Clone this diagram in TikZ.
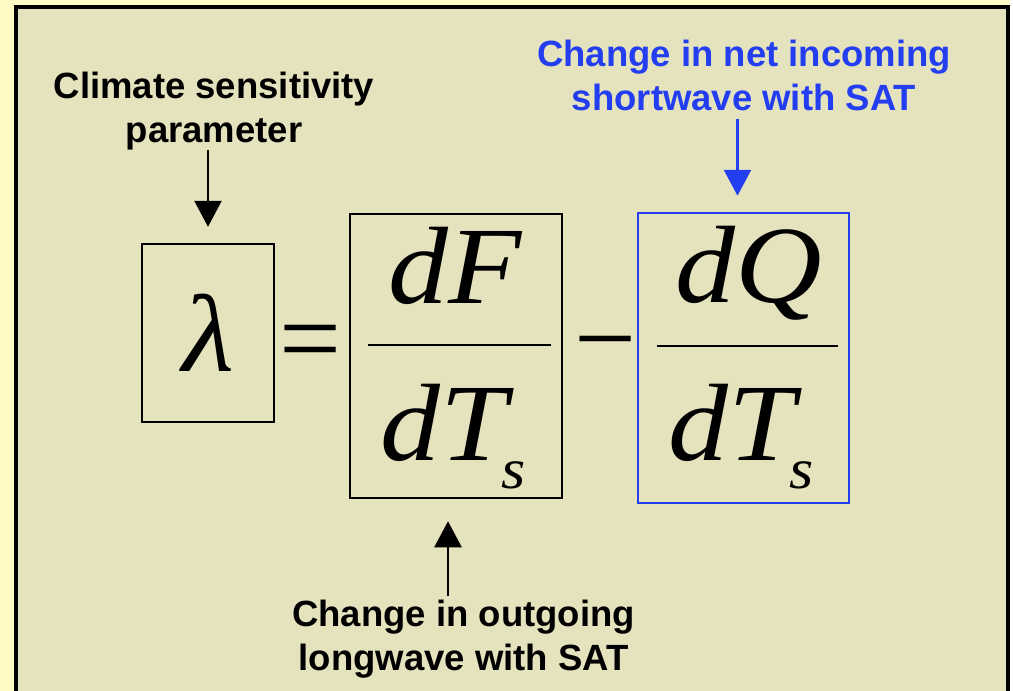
\documentclass[tikz,border=0pt]{standalone}
\usepackage{fontspec}
\setmainfont{Liberation Sans}
\newfontfamily\timesfont{Liberation Serif}
\newfontfamily\timesit{Liberation Serif}[FakeStretch=1.09]
\usetikzlibrary{arrows.meta,positioning}
\definecolor{bgtan}{RGB}{229,226,190}
\definecolor{paleyellow}{RGB}{255,251,196}
\definecolor{satblue}{RGB}{35,62,240}
\newcommand{\subs}{\kern-5pt\raisebox{-28pt}{\fontsize{57}{57}\selectfont s}}

\begin{document}
\begin{tikzpicture}[x=1pt,y=-1pt,>={Triangle[width=27pt,length=26pt]}]
  \tikzstyle{lbl}=[font=\fontsize{36.5}{44}\selectfont\bfseries,align=center,inner sep=0pt,anchor=base]
  \tikzstyle{sym}=[font=\fontsize{110}{110}\timesit\itshape,inner sep=0pt,anchor=base west]
  \tikzstyle{op}=[font=\fontsize{110}{110}\timesfont,inner sep=0pt,anchor=base west]
  \tikzstyle{box}=[draw,line width=2.5pt,inner sep=0pt]
  \tikzstyle{arr}=[->,line width=2.5pt]
  % background and frame
  \useasboundingbox (0,0) rectangle (1013,691);
  \fill[paleyellow] (0,0) rectangle (1013,691);
  \fill[white] (1010,0) rectangle (1013,691);
  \fill[bgtan] (16,6.5) rectangle (1008,691);
  \draw[line width=4pt] (16,691) -- (16,6.5) -- (1008,6.5) -- (1008,691);
  % equation
  \node[box,minimum width=132pt,minimum height=178pt,font=\fontsize{110}{110}\timesit\itshape] (lam) at (208,333) {λ};
  \node[op] (eq) at (279,375) {=};
  \node[box,minimum width=212pt,minimum height=284pt] (fbox) at (456,356) {};
  \node[sym] (dF) at (388,303) {dF};
  \node[sym] (dTf) at (380,460) {dT\subs};
  \draw[line width=2pt] (368,345) -- (551,345);
  \node[op] (minus) at (574,375) {−};
  \node[box,draw=satblue,minimum width=211pt,minimum height=290pt] (qbox) at (743.5,358) {};
  \node[sym] (dQ) at (675,302) {dQ};
  \node[sym] (dTq) at (668,460) {dT\subs};
  \draw[line width=2pt] (657,346) -- (838,346);
  % labels
  \node[lbl] (param) at (214,142) {Climate sensitivity\\parameter};
  \node[lbl,text=satblue] (swlabel) at (744,110) {Change in net incoming\\shortwave with SAT};
  \node[lbl] (lwlabel) at (463.5,670) {Change in outgoing\\longwave with SAT};
  \coordinate (swtip) at ([xshift=-6pt]qbox.north);
  \coordinate (swtail) at ([yshift=-8pt]swlabel.south);
  \coordinate (lwtip) at ([xshift=-8pt]fbox.south);
  \draw[arr,shorten >=16pt] (param.south -| lam.north) -- (lam.north);
  \draw[arr,draw=satblue,fill=satblue,shorten >=16pt] (swtail -| swtip) -- (swtip);
  \draw[arr,shorten <=3pt,shorten >=22pt] (lwlabel.north -| lwtip) -- (lwtip);
\end{tikzpicture}
\end{document}
